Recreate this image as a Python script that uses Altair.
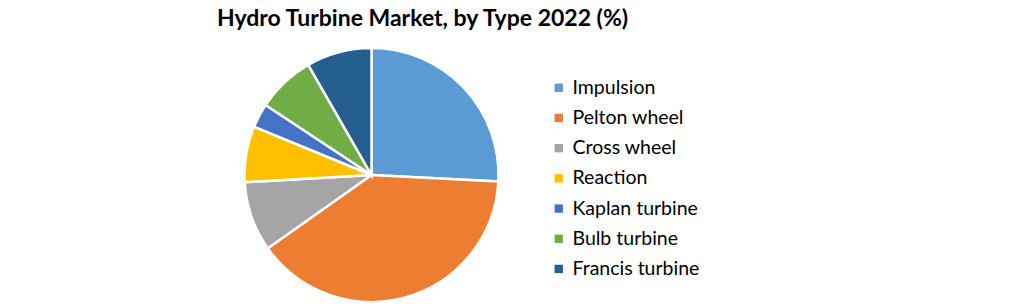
import altair as alt
import pandas as pd

types = ["Impulsion", "Pelton wheel", "Cross wheel", "Reaction",
         "Kaplan turbine", "Bulb turbine", "Francis turbine"]
shares = [25.8, 39.4, 8.9, 7.1, 3.1, 7.4, 8.3]
colors = ["#5B9BD5", "#ED7D31", "#A5A5A5", "#FFC000",
          "#4472C4", "#70AD47", "#255E91"]

df = pd.DataFrame({"Type": types, "Share": shares, "idx": list(range(len(types)))})

font = "Lato"

chart = alt.Chart(df).mark_arc(
    radius=127, stroke="white", strokeWidth=2.5
).encode(
    theta=alt.Theta("Share:Q", stack=True),
    order=alt.Order("idx:Q"),
    color=alt.Color(
        "Type:N",
        scale=alt.Scale(domain=types, range=colors),
        sort=types,
        legend=alt.Legend(
            title=None, orient="none", legendX=549, legendY=38,
            symbolType="square", symbolSize=70, symbolStrokeWidth=0,
            labelFont=font, labelFontSize=19.5, labelColor="#000000",
            rowPadding=9.2, labelOffset=4, labelLimit=300,
        ),
    ),
    x=alt.value(371.5),
    y=alt.value(135),
).properties(
    width=1021, height=264,
    padding={"left": 0, "top": 40, "right": 0, "bottom": 0},
    autosize=alt.AutoSizeParams(type="none"),
    background="white",
    title=alt.TitleParams(
        "Hydro Turbine Market, by Type 2022 (%)",
        font=font, fontSize=23, fontWeight="bold", color="#000000",
        anchor="middle", dx=-88, offset=9,
    ),
).configure_view(stroke=None)

chart.save("out.html", embed_options={"renderer": "svg", "actions": False})
